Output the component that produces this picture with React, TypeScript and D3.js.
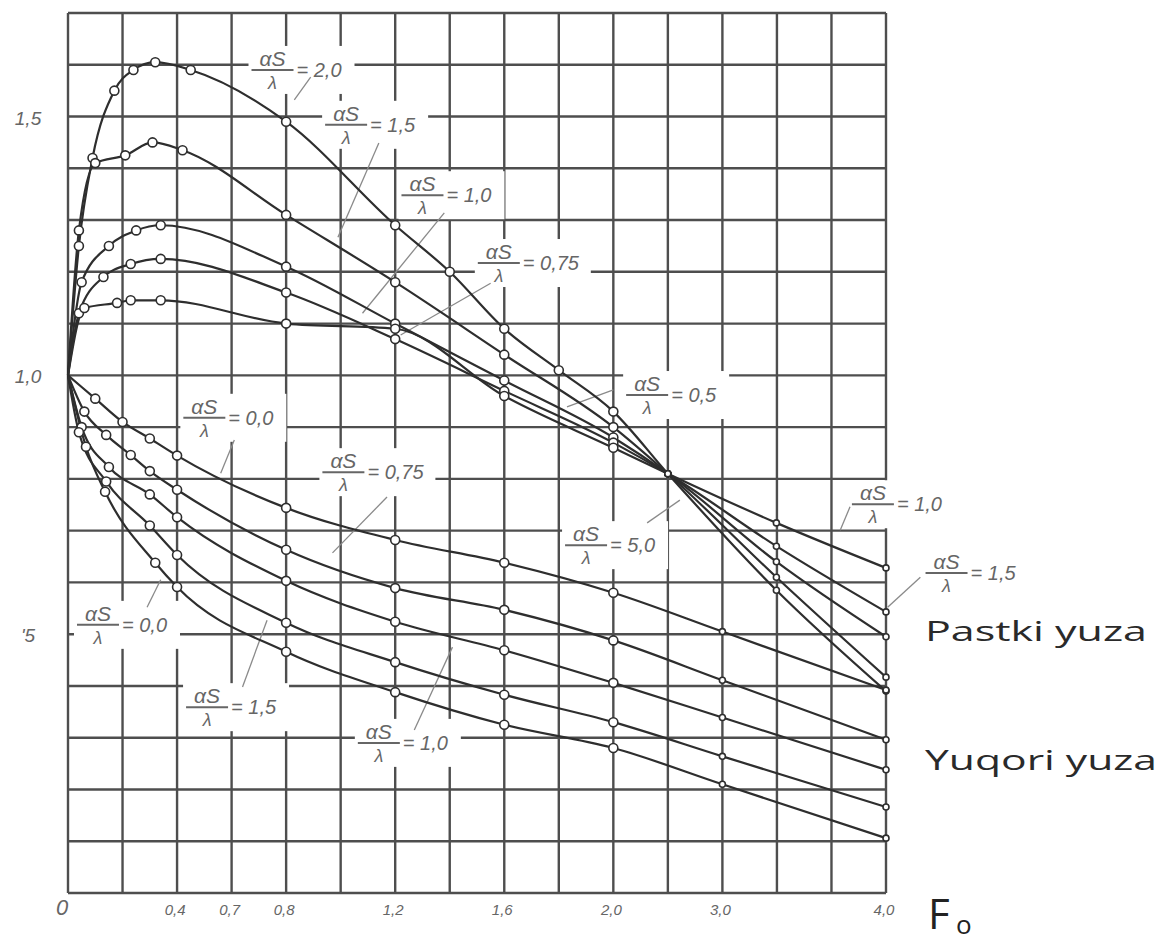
import * as d3 from 'd3'

// Fourier number ticks (the scan labels column 3 as "0,7")
const foTicks = [0, 0.4, 0.6, 0.8, 1.2, 1.6, 2.0, 3.0, 4.0]
const foLabels = ['0', '0,4', '0,7', '0,8', '1,2', '1,6', '2,0', '3,0', '4,0']
const yTicks = [1.5, 1.0, 0.5]
const yLabels = ['1,5', '1,0', "'5"]

// upper family (rise then fall), [Fo, value]
const upper20 = [[0, 1.0], [0.04, 1.25], [0.09, 1.42], [0.17, 1.55], [0.24, 1.59], [0.32, 1.605], [0.45, 1.59], [0.8, 1.49], [1.2, 1.29], [1.4, 1.2], [1.6, 1.09], [1.8, 1.01], [2.0, 0.93], [2.5, 0.81], [3.33, 0.585], [4.0, 0.39]]
const upper15 = [[0, 1.0], [0.04, 1.28], [0.1, 1.41], [0.21, 1.425], [0.31, 1.45], [0.42, 1.435], [0.8, 1.31], [1.2, 1.18], [1.6, 1.04], [2.0, 0.9], [2.5, 0.81], [3.33, 0.61], [4.0, 0.417]]
const upper10 = [[0, 1.0], [0.05, 1.18], [0.15, 1.25], [0.25, 1.28], [0.34, 1.29], [0.8, 1.21], [1.2, 1.1], [1.6, 0.99], [2.0, 0.88], [2.5, 0.81], [3.33, 0.64], [4.0, 0.495]]
const upper075 = [[0, 1.0], [0.04, 1.12], [0.13, 1.19], [0.23, 1.215], [0.34, 1.225], [0.8, 1.16], [1.2, 1.07], [1.6, 0.97], [2.0, 0.87], [2.5, 0.81], [3.33, 0.67], [4.0, 0.543]]
const upper05 = [[0, 1.0], [0.06, 1.13], [0.18, 1.14], [0.23, 1.145], [0.34, 1.145], [0.8, 1.1], [1.2, 1.09], [1.6, 0.96], [2.0, 0.86], [2.5, 0.81], [3.33, 0.715], [4.0, 0.628]]

// lower family (falling)
const lower1 = [[0, 1.0], [0.1, 0.955], [0.2, 0.91], [0.3, 0.878], [0.4, 0.845], [0.8, 0.744], [1.2, 0.682], [1.6, 0.638], [2.0, 0.58], [3.0, 0.505], [4.0, 0.392]]
const lower2 = [[0, 1.0], [0.06, 0.93], [0.14, 0.885], [0.23, 0.846], [0.3, 0.815], [0.4, 0.779], [0.8, 0.663], [1.2, 0.589], [1.6, 0.547], [2.0, 0.488], [3.0, 0.411], [4.0, 0.296]]
const lower3 = [[0, 1.0], [0.05, 0.9], [0.15, 0.823], [0.3, 0.77], [0.4, 0.726], [0.8, 0.603], [1.2, 0.524], [1.6, 0.469], [2.0, 0.406], [3.0, 0.339], [4.0, 0.238]]
const lower4 = [[0, 1.0], [0.04, 0.89], [0.14, 0.795], [0.3, 0.71], [0.4, 0.653], [0.8, 0.522], [1.2, 0.446], [1.6, 0.383], [2.0, 0.33], [3.0, 0.264], [4.0, 0.166]]
const lower5 = [[0, 1.0], [0.066, 0.862], [0.136, 0.775], [0.32, 0.638], [0.4, 0.591], [0.8, 0.466], [1.2, 0.388], [1.6, 0.325], [2.0, 0.28], [3.0, 0.21], [4.0, 0.106]]

const allSeries = [upper20, upper15, upper10, upper075, upper05, lower1, lower2, lower3, lower4, lower5]

// αS/λ annotations: [Fo, value] of the fraction bar centre
const noteValues = ['2,0', '1,5', '1,0', '0,75', '0,5', '0,0', '0,75', '5,0', '1,0', '1,5', '0,0', '1,5', '1,0']
const notePos = [[0.75, 1.59], [1.02, 1.484], [1.3, 1.348], [1.58, 1.217], [2.31, 0.962], [0.5, 0.918], [1.01, 0.813], [1.9, 0.672], [3.92, 0.751], [4.37, 0.618], [0.11, 0.518], [0.51, 0.359], [1.14, 0.29]]
const leaders = [
  [[0.89, 1.576], [0.83, 1.532]],
  [[1.14, 1.449], [0.99, 1.267]],
  [[1.38, 1.314], [1.08, 1.12]],
  [[1.55, 1.178], [1.22, 1.078]],
  [[2.0, 0.972], [1.83, 0.939]],
  [[0.61, 0.875], [0.56, 0.811]],
  [[1.17, 0.765], [0.97, 0.657]],
  [[2.61, 0.759], [2.31, 0.715]],
  [[3.78, 0.746], [3.72, 0.701]],
  [[4.21, 0.61], [4.01, 0.552]],
  [[0.34, 0.605], [0.29, 0.552]],
  [[0.73, 0.527], [0.64, 0.398]],
  [[1.41, 0.475], [1.27, 0.315]],
]

const W = 1166
const H = 943
const left = 68
const right = 886
const top = 13
const bottom = 893
const cw = (right - left) / 15

const x = d3.scaleLinear().domain([0, 2, 3, 4]).range([left, left + 10 * cw, left + 12 * cw, right])
const y = d3.scaleLinear().domain([0, 1.7]).range([bottom, top])

const grid = '#4e4e4e'
const ink = '#2e2e2e'
const pencil = '#666'

const Note = ({ p, v }: { p: number[]; v: string }) => {
  const cx = x(p[0])
  const by = y(p[1])
  const eq = '= ' + v
  return (
    <g fontFamily='Liberation Sans, Arial, sans-serif' fontStyle='italic' fill={pencil}>
      <text x={cx} y={by - 4} fontSize={21} textAnchor='middle'>αS</text>
      <line x1={cx - 21} x2={cx + 21} y1={by} y2={by} stroke={pencil} strokeWidth={2} />
      <text x={cx} y={by + 19} fontSize={18} textAnchor='middle'>λ</text>
      <text x={cx + 24} y={by + 7} fontSize={20}>{eq}</text>
    </g>
  )
}

export default function App() {
  const line = d3
    .line<number[]>()
    .x((d) => x(d[0]))
    .y((d) => y(d[1]))
    .curve(d3.curveMonotoneX)

  const cols = d3.range(16).map((i) => left + i * cw)
  const rows = d3.range(0, 1.71, 0.1).map((v) => y(v))

  return (
    <svg width={W} height={H} style={{ position: 'absolute', left: 0, top: 0, background: '#fff' }}>
      {/* grid */}
      <g stroke={grid} strokeWidth={2.4}>
        {cols.map((cx, i) => (
          <line key={'c' + i} x1={cx} x2={cx} y1={top} y2={bottom} />
        ))}
        {rows.map((ry, i) => (
          <line key={'r' + i} x1={left} x2={right} y1={ry} y2={ry} />
        ))}
      </g>

      {/* label masks + leaders */}
      {notePos.map((p, i) => (
        <rect key={'m' + i} x={x(p[0]) - 24} y={y(p[1]) - 24} width={('= ' + noteValues[i]).length * 10 + 56} height={48} fill='#fff' />
      ))}
      <g stroke='#8a8a8a' strokeWidth={1.3}>
        {leaders.map((l, i) => (
          <line key={'l' + i} x1={x(l[0][0])} y1={y(l[0][1])} x2={x(l[1][0])} y2={y(l[1][1])} />
        ))}
      </g>

      {/* curves */}
      <g fill='none' stroke={ink} strokeWidth={2.2}>
        {allSeries.map((s, i) => (
          <path key={'s' + i} d={line(s as number[][]) || ''} />
        ))}
      </g>
      <g fill='#fff' stroke={ink} strokeWidth={1.6}>
        {allSeries.map((s, i) =>
          s.slice(1).map((d, j) => (
            <circle key={'p' + i + '-' + j} cx={x(d[0])} cy={y(d[1])} r={d[0] >= 2.5 ? 3 : 4.5} />
          ))
        )}
      </g>

      {notePos.map((p, i) => (
        <Note key={'n' + i} p={p} v={noteValues[i]} />
      ))}

      {/* axis labels */}
      <g fontFamily='Liberation Sans, Arial, sans-serif' fontStyle='italic' fill={pencil}>
        {foTicks.map((t, i) => (
          <text key={'x' + i} x={x(t) - (i === 0 ? 6 : 2)} y={bottom + 22} fontSize={i === 0 ? 22 : 15} textAnchor='middle'>
            {foLabels[i]}
          </text>
        ))}
        {yTicks.map((t, i) => (
          <text key={'y' + i} x={28} y={y(t) + 8} fontSize={19} textAnchor='middle'>
            {yLabels[i]}
          </text>
        ))}
      </g>

      <text x={928} y={929} fontFamily='Open Sans, sans-serif' fontSize={42} fill='#222'>F</text>
      <text x={956} y={934} fontFamily='Open Sans, sans-serif' fontSize={26} fill='#222'>o</text>

      <g fontFamily='Open Sans, sans-serif' fontSize={27} fill='#2a2a2a'>
        <text x={925} y={641} textLength={222} lengthAdjust='spacingAndGlyphs'>Pastki yuza</text>
        <text x={925} y={770} textLength={232} lengthAdjust='spacingAndGlyphs'>Yuqori yuza</text>
      </g>
    </svg>
  )
}
